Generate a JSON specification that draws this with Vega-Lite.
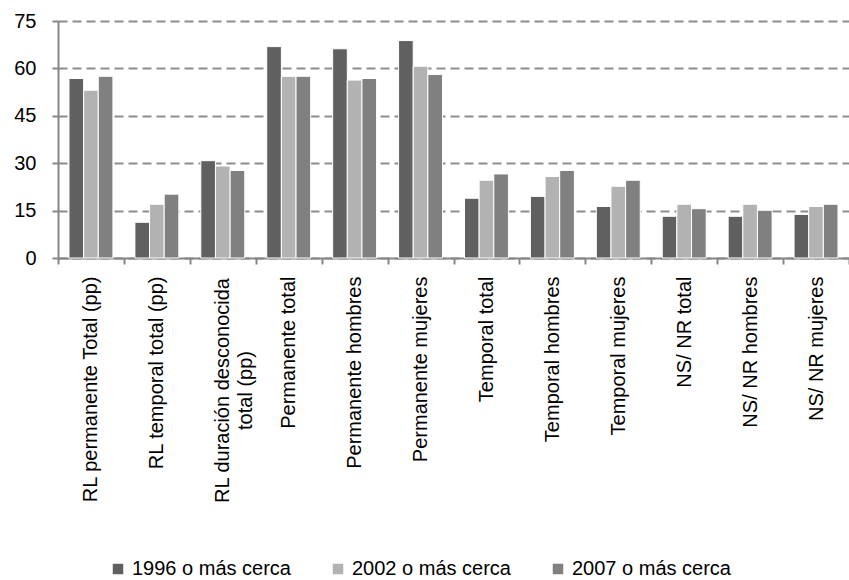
{
  "$schema": "https://vega.github.io/schema/vega-lite/v6.json",
  "width": 791,
  "height": 237,
  "autosize": {"type": "none"},
  "padding": {"left": 58, "top": 21, "right": 0, "bottom": 322},
  "config": {"view": {"stroke": null}, "font": "Liberation Sans"},
  "data": {
    "values": [
      {"categoria": "RL permanente Total (pp)", "serie": "1996 o más cerca", "valor": 56.8},
      {"categoria": "RL permanente Total (pp)", "serie": "2002 o más cerca", "valor": 53.1},
      {"categoria": "RL permanente Total (pp)", "serie": "2007 o más cerca", "valor": 57.5},
      {"categoria": "RL temporal total (pp)", "serie": "1996 o más cerca", "valor": 11.3},
      {"categoria": "RL temporal total (pp)", "serie": "2002 o más cerca", "valor": 17.0},
      {"categoria": "RL temporal total (pp)", "serie": "2007 o más cerca", "valor": 20.2},
      {"categoria": "RL duración desconocida total (pp)", "serie": "1996 o más cerca", "valor": 30.8},
      {"categoria": "RL duración desconocida total (pp)", "serie": "2002 o más cerca", "valor": 29.1},
      {"categoria": "RL duración desconocida total (pp)", "serie": "2007 o más cerca", "valor": 27.7},
      {"categoria": "Permanente total", "serie": "1996 o más cerca", "valor": 66.9},
      {"categoria": "Permanente total", "serie": "2002 o más cerca", "valor": 57.5},
      {"categoria": "Permanente total", "serie": "2007 o más cerca", "valor": 57.5},
      {"categoria": "Permanente hombres", "serie": "1996 o más cerca", "valor": 66.2},
      {"categoria": "Permanente hombres", "serie": "2002 o más cerca", "valor": 56.3},
      {"categoria": "Permanente hombres", "serie": "2007 o más cerca", "valor": 56.8},
      {"categoria": "Permanente mujeres", "serie": "1996 o más cerca", "valor": 68.8},
      {"categoria": "Permanente mujeres", "serie": "2002 o más cerca", "valor": 60.7},
      {"categoria": "Permanente mujeres", "serie": "2007 o más cerca", "valor": 58.1},
      {"categoria": "Temporal total", "serie": "1996 o más cerca", "valor": 18.9},
      {"categoria": "Temporal total", "serie": "2002 o más cerca", "valor": 24.6},
      {"categoria": "Temporal total", "serie": "2007 o más cerca", "valor": 26.6},
      {"categoria": "Temporal hombres", "serie": "1996 o más cerca", "valor": 19.5},
      {"categoria": "Temporal hombres", "serie": "2002 o más cerca", "valor": 25.8},
      {"categoria": "Temporal hombres", "serie": "2007 o más cerca", "valor": 27.7},
      {"categoria": "Temporal mujeres", "serie": "1996 o más cerca", "valor": 16.3},
      {"categoria": "Temporal mujeres", "serie": "2002 o más cerca", "valor": 22.7},
      {"categoria": "Temporal mujeres", "serie": "2007 o más cerca", "valor": 24.6},
      {"categoria": "NS/ NR total", "serie": "1996 o más cerca", "valor": 13.2},
      {"categoria": "NS/ NR total", "serie": "2002 o más cerca", "valor": 17.0},
      {"categoria": "NS/ NR total", "serie": "2007 o más cerca", "valor": 15.6},
      {"categoria": "NS/ NR hombres", "serie": "1996 o más cerca", "valor": 13.2},
      {"categoria": "NS/ NR hombres", "serie": "2002 o más cerca", "valor": 17.0},
      {"categoria": "NS/ NR hombres", "serie": "2007 o más cerca", "valor": 15.1},
      {"categoria": "NS/ NR mujeres", "serie": "1996 o más cerca", "valor": 13.8},
      {"categoria": "NS/ NR mujeres", "serie": "2002 o más cerca", "valor": 16.3},
      {"categoria": "NS/ NR mujeres", "serie": "2007 o más cerca", "valor": 17.0}
    ]
  },
  "mark": {"type": "bar", "stroke": "white", "strokeWidth": 1},
  "encoding": {
    "x": {
      "field": "categoria",
      "type": "nominal",
      "sort": null,
      "scale": {"paddingInner": 0, "paddingOuter": 0},
      "axis": {
        "title": null,
        "labelAngle": -90,
        "labelFontSize": 20,
        "labelColor": "#000000",
        "labelPadding": {"condition": {"test": "datum.value == 'RL duración desconocida total (pp)'", "value": 126}, "value": 12},
        "labelAlign": {"condition": {"test": "datum.value == 'RL duración desconocida total (pp)'", "value": "center"}, "value": "right"},
        "labelLimit": 0,
        "labelLineHeight": 23,
        "tickBand": "extent",
        "tickSize": 6,
        "tickColor": "#868686",
        "tickWidth": 2,
        "domainColor": "#868686",
        "domainWidth": 2,
        "labelExpr": "datum.value == 'RL duración desconocida total (pp)' ? ['RL duración desconocida', 'total (pp)'] : datum.value"
      }
    },
    "xOffset": {
      "field": "serie",
      "type": "nominal",
      "scale": {"paddingInner": 0, "paddingOuter": 0.75}
    },
    "y": {
      "field": "valor",
      "type": "quantitative",
      "scale": {"domain": [0, 75]},
      "axis": {
        "values": [0, 15, 30, 45, 60, 75],
        "title": null,
        "grid": true,
        "gridDash": [9, 5],
        "gridColor": "#8c8c8c",
        "gridWidth": 2,
        "labelFontSize": 20,
        "labelColor": "#000000",
        "labelPadding": 16,
        "tickSize": 6,
        "tickColor": "#868686",
        "tickWidth": 2,
        "domainColor": "#868686",
        "domainWidth": 2
      }
    },
    "color": {
      "field": "serie",
      "type": "nominal",
      "scale": {
        "domain": ["1996 o más cerca", "2002 o más cerca", "2007 o más cerca"],
        "range": ["#606060", "#b2b2b2", "#808080"]
      },
      "legend": {
        "orient": "none",
        "legendX": 50,
        "legendY": 538,
        "direction": "horizontal",
        "title": null,
        "symbolType": "square",
        "symbolSize": 110,
        "symbolStrokeWidth": 0,
        "labelFontSize": 20,
        "labelColor": "#000000",
        "labelOffset": 4,
        "columnPadding": 37
      }
    }
  }
}
